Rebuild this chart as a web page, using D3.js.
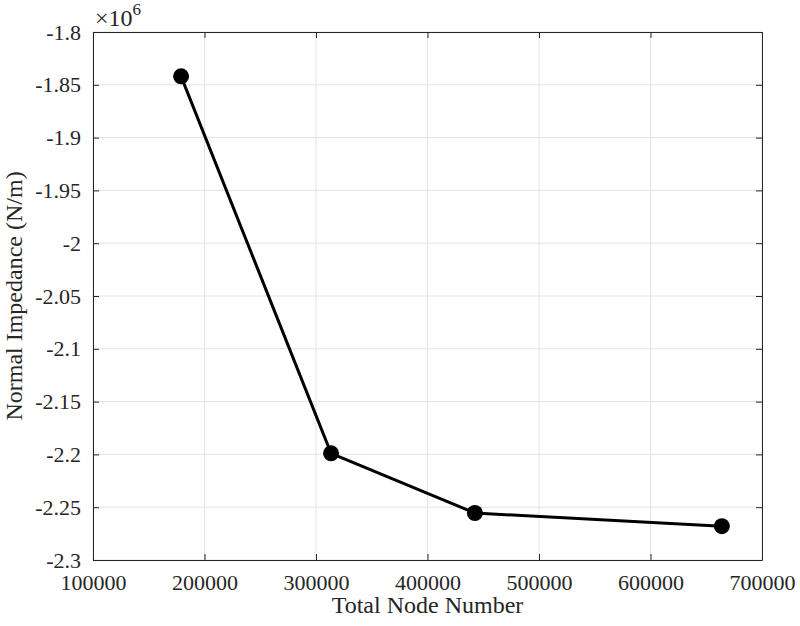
<!DOCTYPE html><html><head><meta charset="utf-8">
<script src="https://cdn.jsdelivr.net/npm/d3@7"></script>
<style>body{margin:0;background:#fff}svg text{font-family:"Liberation Serif","Times New Roman",serif !important}</style></head><body>
<svg id="c" width="800" height="626"></svg>
<script>
const nodes=[179000,313500,442500,664000];
const impedance=[-1.842,-2.199,-2.2555,-2.268];
const xTicks=[100000,200000,300000,400000,500000,600000,700000];
const yTicks=[-1.8,-1.85,-1.9,-1.95,-2,-2.05,-2.1,-2.15,-2.2,-2.25,-2.3];
const L=93,R=762,T=32,B=560;
const svg=d3.select("#c");
const x=d3.scaleLinear().domain([100000,700000]).range([L,R]);
const y=d3.scaleLinear().domain([-2.3,-1.8]).range([B,T]);
const g=svg.append("g");
g.selectAll(".gx").data(xTicks).join("line").attr("x1",d=>x(d)).attr("x2",d=>x(d)).attr("y1",T).attr("y2",B).attr("stroke","#e3e3e3");
g.selectAll(".gy").data(yTicks).join("line").attr("y1",d=>y(d)).attr("y2",d=>y(d)).attr("x1",L).attr("x2",R).attr("stroke","#e3e3e3");
const xa=svg.append("g").attr("transform",`translate(0,${B})`).call(d3.axisBottom(x).tickValues(xTicks).tickFormat(d3.format("d")).tickSizeInner(-6).tickSizeOuter(0).tickPadding(14));
const xa2=svg.append("g").attr("transform",`translate(0,${T})`).call(d3.axisTop(x).tickValues(xTicks).tickFormat(()=>"").tickSizeInner(-6).tickSizeOuter(0));
const ya=svg.append("g").attr("transform",`translate(${L},0)`).call(d3.axisLeft(y).tickValues(yTicks).tickFormat(d=>String(d)).tickSizeInner(-6).tickSizeOuter(0).tickPadding(12));
const ya2=svg.append("g").attr("transform",`translate(${R},0)`).call(d3.axisRight(y).tickValues(yTicks).tickFormat(()=>"").tickSizeInner(-6).tickSizeOuter(0));
[xa,xa2,ya,ya2].forEach(a=>{a.attr("font-family","Liberation Serif").attr("font-size",22);a.selectAll("line").attr("stroke","#262626");a.selectAll("path").attr("stroke","#262626");a.selectAll("text").attr("fill","#262626");});
const line=d3.line().x((d,i)=>x(nodes[i])).y(d=>y(d));
svg.append("path").datum(impedance).attr("d",line).attr("fill","none").attr("stroke","#000").attr("stroke-width",3);
svg.selectAll(".pt").data(impedance).join("circle").attr("cx",(d,i)=>x(nodes[i])).attr("cy",d=>y(d)).attr("r",8).attr("fill","#000");
svg.append("text").attr("x",95).attr("y",26).attr("font-size",24).attr("fill","#262626").html('×10<tspan dy="-11" font-size="17">6</tspan>');
svg.append("text").attr("x",(L+R)/2).attr("y",613).attr("text-anchor","middle").attr("font-size",24).attr("fill","#262626").text("Total Node Number");
svg.append("text").attr("transform",`translate(22,${(T+B)/2}) rotate(-90)`).attr("text-anchor","middle").attr("font-size",24).attr("fill","#262626").text("Normal Impedance (N/m)");
</script></body></html>
